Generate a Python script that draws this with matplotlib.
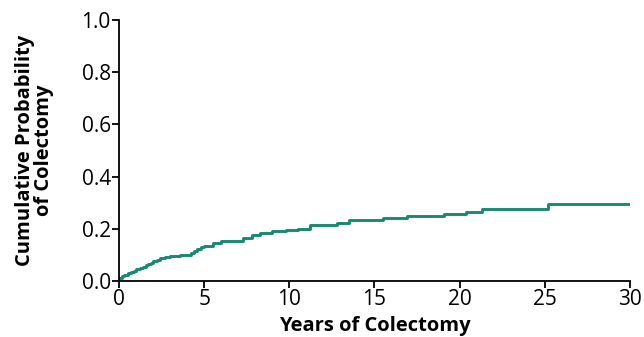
import matplotlib.pyplot as plt

# tiempos (anos) y probabilidad acumulada de colectomia
anos = [0, 0.15, 0.3, 0.5, 0.7, 0.85, 1.0, 1.2, 1.4, 1.55, 1.7, 1.85, 2.0, 2.2, 2.4,
        2.7, 3.0, 3.6, 4.2, 4.4, 4.6, 4.8, 5.0, 5.5, 6.0, 7.3, 7.8, 8.3, 9.0, 9.8, 10.5,
        11.2, 12.8, 13.5, 15.5, 16.9, 19.1, 20.4, 21.3, 25.2, 30.0]
prob = [0.012, 0.018, 0.024, 0.03, 0.035, 0.04, 0.045, 0.05, 0.055, 0.06, 0.065, 0.07,
        0.075, 0.082, 0.09, 0.093, 0.096, 0.10, 0.107, 0.115, 0.122, 0.13, 0.136, 0.145,
        0.155, 0.165, 0.175, 0.185, 0.19, 0.195, 0.20, 0.215, 0.222, 0.232, 0.240, 0.248,
        0.256, 0.265, 0.275, 0.295, 0.295]
xticks = [0, 5, 10, 15, 20, 25, 30]
yticks = [0.0, 0.2, 0.4, 0.6, 0.8, 1.0]

plt.rcParams['font.family'] = ['Open Sans', 'DejaVu Sans']

fig = plt.figure(figsize=(6.44, 3.37), dpi=100)
ax = fig.add_axes([0.185, 0.166, 0.793, 0.775])
ax.step(anos, prob, where='post', color='#168a70', linewidth=2.1)

ax.set_xlim(0, 30)
ax.set_ylim(0, 1.0)
ax.set_xticks(xticks)
ax.set_yticks(yticks)
ax.set_yticklabels([f'{v:.1f}' for v in yticks])
ax.spines['top'].set_visible(False)
ax.spines['right'].set_visible(False)
for s in ['left', 'bottom']:
    ax.spines[s].set_linewidth(1.3)
ax.tick_params(direction='out', length=5, width=1.3, labelsize=15, pad=1)
ax.set_xlabel('Years of Colectomy', fontsize=14.5, fontweight='bold', labelpad=4)
ax.set_ylabel('Cumulative Probability\nof Colectomy', fontsize=14.5, fontweight='bold',
              linespacing=0.9, labelpad=20)

fig.savefig('out.png', dpi=100)
